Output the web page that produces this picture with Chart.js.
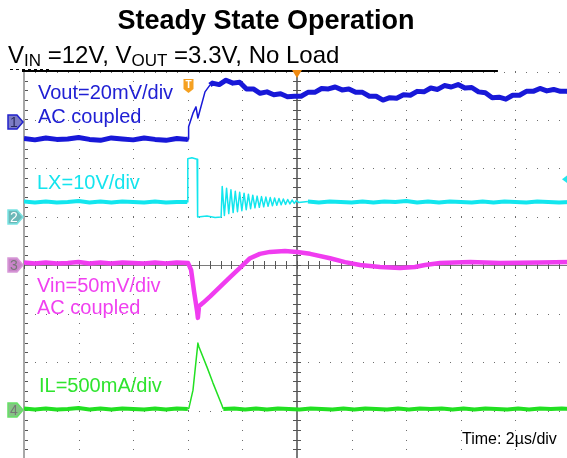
<!DOCTYPE html>
<html>
<head>
<meta charset="utf-8">
<script src="https://cdn.jsdelivr.net/npm/chart.js@4/dist/chart.umd.min.js"></script>
<style>
  body { margin: 0; background: #fff; }
  #wrap { position: relative; width: 567px; height: 458px; overflow: hidden; font-family: "Liberation Sans", Arial, sans-serif; }
  #chart { position: absolute; left: 0; top: 0; }
  .lbl { position: absolute; white-space: nowrap; font-size: 20px; line-height: 20px; }
  #title { position: absolute; left: 0; top: 7px; width: 532px; text-align: center; font-weight: bold; font-size: 27px; line-height: 27px; }
  #sub { position: absolute; left: 8px; top: 43px; font-size: 24px; line-height: 24px; white-space: nowrap; }
  #sub span { font-size: 17px; position: relative; top: 3px; }
</style>
</head>
<body>
<div id="wrap">
  <canvas id="chart" width="580" height="470"></canvas>
  <div id="title">Steady State Operation</div>
  <div id="sub">V<span>IN</span> =12V, V<span>OUT</span> =3.3V, No Load</div>
  <div class="lbl" style="left:38px;top:82px;color:#2020d4">Vout=20mV/div</div>
  <div class="lbl" style="left:38px;top:106px;color:#2020d4">AC coupled</div>
  <div class="lbl" style="left:37px;top:172px;color:#14e4ee">LX=10V/div</div>
  <div class="lbl" style="left:37px;top:275px;color:#f040f0">Vin=50mV/div</div>
  <div class="lbl" style="left:37px;top:297px;color:#f040f0">AC coupled</div>
  <div class="lbl" style="left:39px;top:375px;color:#2ee42e">IL=500mA/div</div>
  <div class="lbl" style="left:462px;top:431px;font-size:16px;line-height:16px;color:#000">Time: 2µs/div</div>
</div>
<script>
// time in us (2us/div, 10 div), level in divisions (8 div)

// Vout, 20mV/div AC coupled
var voutT = [-10,-9.6,-9.2,-8.8,-8.4,-8,-7.6,-7.2,-6.8,-6.4,-6,-5.6,-5.2,-4.8,-4.4,-4.05,-3.99,
  -3.97,-3.81,-3.70,-3.63,-3.37,-3.19,
  -3.10,-2.85,-2.60,-2.35,-2.10,-1.85,-1.60,-1.35,-1.10,-0.85,-0.60,-0.35,-0.10,0.15,0.40,0.65,0.90,1.15,1.40,1.65,1.90,
  2.15,2.40,2.65,2.90,3.15,3.40,3.65,3.90,4.15,4.40,4.65,4.90,5.15,5.40,5.65,5.90,6.15,6.40,6.65,6.90,
  7.15,7.40,7.65,7.90,8.15,8.40,8.65,8.90,9.15,9.40,9.65,9.90,10];
var voutV = [2.61,2.58,2.62,2.59,2.60,2.63,2.59,2.57,2.62,2.60,2.58,2.62,2.59,2.57,2.61,2.59,2.60,
  2.85,3.13,3.26,3.03,3.57,3.71,
  3.75,3.72,3.81,3.75,3.77,3.63,3.63,3.54,3.57,3.51,3.53,3.47,3.48,3.48,3.56,3.56,3.64,3.63,3.67,3.61,3.63,
  3.56,3.56,3.48,3.48,3.40,3.45,3.44,3.51,3.50,3.58,3.57,3.65,3.62,3.70,3.67,3.72,3.65,3.66,3.57,3.55,
  3.45,3.46,3.42,3.50,3.50,3.58,3.58,3.64,3.59,3.62,3.58,3.58,3.56];

// LX, 10V/div
var lxT = [-10,-9.6,-9.2,-8.8,-8.4,-8,-7.6,-7.2,-6.8,-6.4,-6,-5.6,-5.2,-4.8,-4.4,-4.02,
  -4.00,-3.85,-3.66,-3.64,-3.30,-3.00,-2.78,
  -2.74,-2.66,-2.58,-2.50,-2.42,-2.34,-2.26,-2.18,-2.10,-2.02,-1.94,-1.86,-1.78,-1.70,-1.62,-1.54,-1.46,-1.38,
  -1.30,-1.22,-1.14,-1.06,-0.98,-0.90,-0.82,-0.74,-0.66,-0.58,-0.50,-0.42,-0.34,-0.26,-0.18,-0.10,-0.02,0.06,
  0.4,0.8,1.2,1.6,2,2.4,2.8,3.2,3.6,4,4.4,4.8,5.2,5.6,6,6.4,6.8,7.2,7.6,8,8.4,8.8,9.2,9.6,10];
var lxV = [1.31,1.29,1.31,1.29,1.30,1.32,1.29,1.31,1.29,1.31,1.30,1.29,1.31,1.29,1.30,1.30,
  2.19,2.21,2.18,0.99,1.01,0.98,0.99,
  1.62,1.02,1.58,1.06,1.55,1.08,1.52,1.10,1.50,1.12,1.48,1.14,1.46,1.16,1.44,1.18,1.42,1.19,
  1.41,1.20,1.40,1.21,1.39,1.22,1.38,1.23,1.37,1.24,1.36,1.25,1.35,1.26,1.34,1.27,1.33,1.29,
  1.31,1.29,1.31,1.30,1.29,1.31,1.29,1.31,1.30,1.32,1.29,1.31,1.29,1.31,1.30,1.29,1.31,1.29,1.31,1.30,1.29,1.31,1.30,1.29,1.30];

// Vin, 50mV/div AC coupled
var vinT = [-10,-9.6,-9.2,-8.8,-8.4,-8,-7.6,-7.2,-6.8,-6.4,-6,-5.6,-5.2,-4.8,-4.4,-3.99,
  -3.88,-3.77,-3.66,-3.63,-3.59,-3.44,-3.17,-2.82,-2.45,-2.09,-1.72,-1.36,-0.99,-0.44,0,
  0.48,1.21,1.76,2.31,3.04,3.77,4.32,4.69,5.24,6.34,7.44,8.9,10];
var vinV = [0.05,0.03,0.05,0.03,0.04,0.06,0.03,0.05,0.03,0.05,0.04,0.03,0.05,0.03,0.05,0.04,
  -0.10,-0.55,-0.95,-1.09,-0.85,-0.78,-0.64,-0.45,-0.25,-0.06,0.14,0.23,0.27,0.29,0.27,
  0.23,0.14,0.06,0.0,-0.04,-0.06,-0.04,0.0,0.04,0.06,0.04,0.05,0.06];

// IL, 500mA/div
var ilT = [-10,-9.6,-9.2,-8.8,-8.4,-8,-7.6,-7.2,-6.8,-6.4,-6,-5.6,-5.2,-4.8,-4.4,-4.0,
  -3.96,-3.81,-3.63,-3.59,-3.30,-3.08,-2.75,-2.70,
  -2.3,-1.9,-1.5,-1.1,-0.7,-0.3,0.1,0.5,0.9,1.3,1.7,2.1,2.5,2.9,3.3,3.7,4.1,4.5,4.9,5.3,5.7,6.1,6.5,6.9,7.3,7.7,8.1,8.5,8.9,9.3,9.7,10];
var ilV = [-2.96,-2.98,-2.96,-2.98,-2.97,-2.95,-2.98,-2.96,-2.98,-2.96,-2.97,-2.98,-2.96,-2.98,-2.96,-2.97,
  -2.95,-2.58,-1.61,-1.69,-2.10,-2.43,-2.89,-2.97,
  -2.96,-2.98,-2.96,-2.98,-2.96,-2.97,-2.98,-2.96,-2.97,-2.98,-2.96,-2.98,-2.96,-2.97,-2.98,-2.96,-2.98,-2.96,-2.97,-2.96,-2.98,-2.96,-2.98,-2.96,-2.97,-2.98,-2.96,-2.98,-2.96,-2.97,-2.96,-2.97];

// channel ground markers (div) and trigger level (div)
var chanLevels = [2.95, 0.99, 0, -2.99];
var chanNames = ['1', '2', '3', '4'];
var trigLevel = 1.77;
var trigTime = -3.99;

function pts(t, v) {
  var out = [];
  for (var i = 0; i < t.length; i++) out.push({x: t[i], y: v[i]});
  return out;
}

var scopeGrid = {
  id: 'scopeGrid',
  beforeDatasetsDraw: function(chart) {
    var ctx = chart.ctx, xs = chart.scales.x, ys = chart.scales.y;
    var x0 = xs.getPixelForValue(0), y0 = ys.getPixelForValue(0);
    var top = ys.getPixelForValue(4), bot = ys.getPixelForValue(-4);
    var left = xs.getPixelForValue(-10), right = xs.getPixelForValue(10);
    ctx.save();
    ctx.fillStyle = '#6e6e6e';
    // dotted rows
    for (var d = -4; d <= 4; d++) {
      if (d === 0) continue;
      var py = Math.round(ys.getPixelForValue(d));
      for (var t = -10; t <= 10.001; t += 0.4) {
        ctx.fillRect(Math.round(xs.getPixelForValue(t)), py + (d === 4 ? 1 : 0), 1, 1);
      }
    }
    // dotted columns
    for (var k = -8; k <= 10; k += 2) {
      if (k === 0) continue;
      var px = Math.round(xs.getPixelForValue(k));
      for (var v = -4; v <= 4.001; v += 0.2) {
        ctx.fillRect(px, Math.round(ys.getPixelForValue(v)), 1, 1);
      }
    }
    // left edge
    ctx.strokeStyle = '#a8a8a8';
    ctx.lineWidth = 2;
    ctx.beginPath(); ctx.moveTo(left, top); ctx.lineTo(left, bot + 20); ctx.stroke();
    ctx.fillStyle = '#555';
    for (var v2 = -4; v2 <= 4.001; v2 += 0.2) {
      ctx.fillRect(left + 1, Math.round(ys.getPixelForValue(v2)), 3, 1);
    }
    // centre cross
    ctx.strokeStyle = '#7a7a7a';
    ctx.lineWidth = 2;
    ctx.beginPath(); ctx.moveTo(x0, top); ctx.lineTo(x0, bot + 20); ctx.stroke();
    ctx.lineWidth = 1;
    ctx.beginPath(); ctx.moveTo(left, Math.round(y0) + 0.5); ctx.lineTo(right, Math.round(y0) + 0.5); ctx.stroke();
    ctx.strokeStyle = '#555';
    ctx.beginPath();
    for (var v3 = -4; v3 <= 4.001; v3 += 0.2) {
      var yy = Math.round(ys.getPixelForValue(v3)) + 0.5;
      ctx.moveTo(x0 - 4, yy); ctx.lineTo(x0 + 4, yy);
    }
    for (var t2 = -10; t2 <= 10.001; t2 += 0.4) {
      var xx = Math.round(xs.getPixelForValue(t2)) + 0.5;
      ctx.moveTo(xx, y0 - 4); ctx.lineTo(xx, y0 + 4);
    }
    ctx.stroke();
    // record bar along the top
    ctx.strokeStyle = '#000';
    ctx.lineWidth = 2;
    ctx.beginPath(); ctx.moveTo(left - 2, top); ctx.lineTo(xs.getPixelForValue(7.36), top); ctx.stroke();
    ctx.lineWidth = 1;
    ctx.setLineDash([3, 3]);
    ctx.beginPath(); ctx.moveTo(10, top - 1.5); ctx.lineTo(50, top - 1.5); ctx.stroke();
    ctx.restore();
  },
  afterDatasetsDraw: function(chart) {
    var ctx = chart.ctx, xs = chart.scales.x, ys = chart.scales.y;
    var fills = ['#7c7cc4', '#6cb8b8', '#c884c8', '#84c484'];
    var strokes = ['#2222cc', '#7ae4e4', '#d898d8', '#66e066'];
    var texts = ['#2a2a60', '#ffffff', '#767676', '#767676'];
    ctx.save();
    for (var i = 0; i < chanLevels.length; i++) {
      var cy = Math.round(ys.getPixelForValue(chanLevels[i]));
      ctx.beginPath();
      ctx.moveTo(8, cy - 7); ctx.lineTo(17, cy - 7); ctx.lineTo(23, cy);
      ctx.lineTo(17, cy + 7); ctx.lineTo(8, cy + 7); ctx.closePath();
      ctx.fillStyle = fills[i]; ctx.fill();
      ctx.strokeStyle = strokes[i]; ctx.lineWidth = 1.5; ctx.stroke();
      ctx.fillStyle = texts[i];
      ctx.font = '14px "Liberation Sans", Arial, sans-serif';
      ctx.textAlign = 'center'; ctx.textBaseline = 'middle';
      ctx.fillText(chanNames[i], 14, cy + 1);
    }
    // trigger position marker
    var tx = Math.round(xs.getPixelForValue(trigTime)) + 0.5;
    ctx.fillStyle = '#f5a020';
    ctx.beginPath();
    ctx.moveTo(tx - 5, 79); ctx.lineTo(tx + 5, 79); ctx.lineTo(tx + 5, 89);
    ctx.lineTo(tx, 93); ctx.lineTo(tx - 5, 89); ctx.closePath(); ctx.fill();
    ctx.fillStyle = '#fff';
    ctx.font = 'bold 10px "Liberation Sans", Arial, sans-serif';
    ctx.textAlign = 'center'; ctx.textBaseline = 'middle';
    ctx.fillText('T', tx, 85);
    // horizontal position marker
    var cx = xs.getPixelForValue(0);
    ctx.fillStyle = '#f08a10';
    ctx.beginPath(); ctx.moveTo(cx - 5, 70); ctx.lineTo(cx + 5, 70); ctx.lineTo(cx, 78); ctx.closePath(); ctx.fill();
    // trigger level marker
    var ty = ys.getPixelForValue(trigLevel);
    ctx.fillStyle = '#20e8ee';
    ctx.beginPath(); ctx.moveTo(562, ty); ctx.lineTo(570, ty - 6); ctx.lineTo(570, ty + 6); ctx.closePath(); ctx.fill();
    ctx.restore();
  }
};

function thin(from, to, w) {
  return function(c) {
    var a = c.p0.parsed.x;
    return (a >= from && a < to) ? 1.5 : w;
  };
}

var ctx = document.getElementById('chart').getContext('2d');
var myChart = new Chart(ctx, {
  type: 'line',
  data: {
    datasets: [
      { label: 'Vout', data: pts(voutT, voutV), borderColor: '#1818d8', borderWidth: 5, segment: { borderWidth: thin(-4.0, -3.2, 5) } },
      { label: 'LX', data: pts(lxT, lxV), borderColor: '#12e6ee', borderWidth: 4, segment: { borderWidth: thin(-4.03, 0.1, 4) } },
      { label: 'Vin', data: pts(vinT, vinV), borderColor: '#f03cf0', borderWidth: 4.5 },
      { label: 'IL', data: pts(ilT, ilV), borderColor: '#22e022', borderWidth: 4, segment: { borderWidth: thin(-4.0, -2.72, 4) } }
    ]
  },
  options: {
    responsive: false,
    animation: false,
    parsing: false,
    layout: { padding: { left: 24, top: 71, right: 10, bottom: 11 } },
    elements: { point: { radius: 0 }, line: { tension: 0, borderJoinStyle: 'round' } },
    scales: {
      x: { type: 'linear', min: -10, max: 10, display: false },
      y: { type: 'linear', min: -4, max: 4, display: false }
    },
    plugins: { legend: { display: false }, tooltip: { enabled: false }, title: { display: false } }
  },
  plugins: [scopeGrid]
});
</script>
</body>
</html>
